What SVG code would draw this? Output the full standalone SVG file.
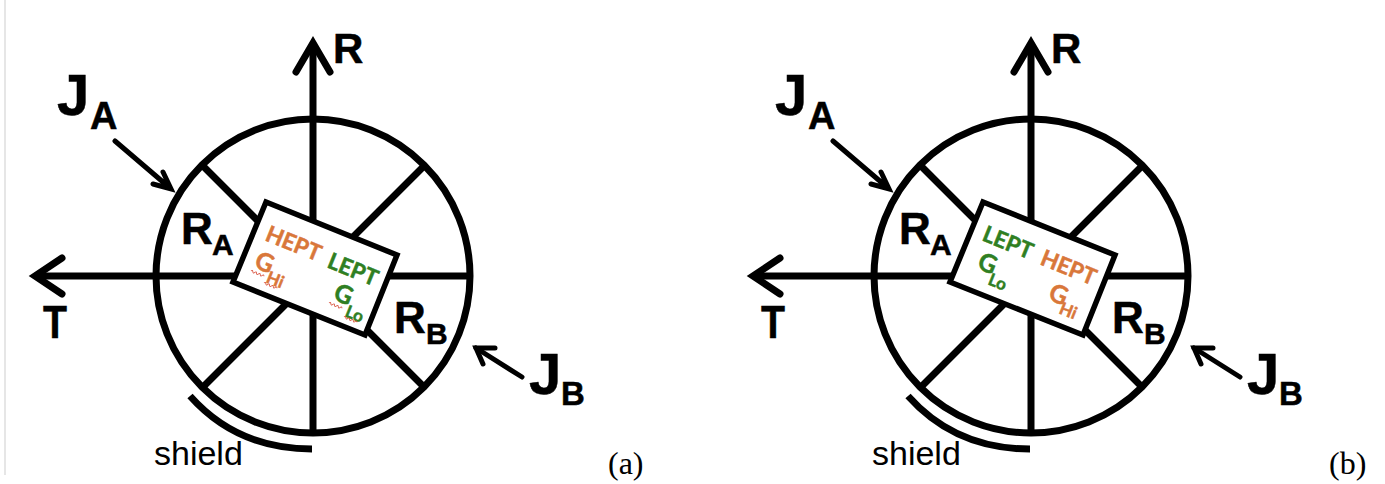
<svg xmlns="http://www.w3.org/2000/svg" xmlns:xlink="http://www.w3.org/1999/xlink" width="1385" height="484" viewBox="0 0 1385 484">
<style>
.ln{fill:none;stroke:#000;stroke-width:7;stroke-linecap:butt;stroke-linejoin:round}
.hd{fill:none;stroke:#000;stroke-width:7;stroke-linecap:round;stroke-linejoin:miter}
.th{fill:none;stroke:#000;stroke-width:5;stroke-linecap:round}
.b{font-family:"Liberation Sans",Arial,sans-serif;font-weight:700;fill:#000;stroke:#000;stroke-width:.5}
.j{font-size:58px}.js{font-size:38px}.jb{font-size:33px}.r{font-size:44px}.rs{font-size:30px}.ax{font-size:42px}.tt{font-size:46px}
.sh{font-family:"Liberation Sans",Arial,sans-serif;font-size:34px;fill:#000}
.cap{font-family:"Liberation Serif","Times New Roman",serif;font-size:32px;fill:#000}
.box{fill:#fff;stroke:#000;stroke-width:5.5;stroke-linejoin:miter}
.o{fill:#d9773a;stroke:#d9773a;stroke-width:.5}.g{fill:#2f7f22;stroke:#2f7f22;stroke-width:.5}
.t{font-family:Lato,"Open Sans",sans-serif;font-weight:700;font-size:22.5px}
.gg{font-family:Lato,"Open Sans",sans-serif;font-weight:700;font-size:25px}
.s{font-family:Lato,"Open Sans",sans-serif;font-weight:700;font-size:17px}
.w{fill:none;stroke:#d8503c;stroke-width:.9}
</style>
<defs>
<path id="sq" class="w" d="M0 0q1 -2 2 0t2 0t2 0t2 0t2 0t2 0t2 0"/>
<g id="wheel">
<circle cx="313" cy="276" r="157" class="ln"/>
<path class="ln" d="M313 48V436M38 276H470M202 165L425 388M425 165L203 387"/>
<path class="hd" d="M296 72L313 43L330 72M62 258L35 276L62 294"/>
<path class="th" d="M115 141L170 188M153 184L171 189L163 172M522 377L476 348"/>
<path class="th" d="M495 348L476 348L483 364"/>
<path class="ln" d="M190 396C222 432 262 449 312 449"/>
</g>
</defs>
<path d="M5 0V475" stroke="#e6e6e6" stroke-width="2" fill="none"/>

<g id="connectors">
<use href="#wheel" xlink:href="#wheel"/>
<use href="#wheel" xlink:href="#wheel" transform="translate(718,0)"/>
</g>

<g id="panel-a">
<g id="label-JA-a"><text class="b j" x="57" y="115">J</text><text class="b js" x="90" y="129">A</text></g>
<g id="label-R-a"><text class="b ax" x="333" y="63">R</text></g>
<g id="label-T-a"><text class="b tt" x="43" y="338" textLength="24" lengthAdjust="spacingAndGlyphs">T</text></g>
<g id="label-RA-a"><text class="b r" x="181" y="244">R</text><text class="b rs" x="212" y="255">A</text></g>
<g id="label-RB-a"><text class="b r" x="394" y="333">R</text><text class="b rs" x="426" y="344">B</text></g>
<g id="label-JB-a"><text class="b j" x="529" y="394">J</text><text class="b jb" x="561" y="405">B</text></g>
<g id="label-shield-a"><text class="sh" x="154" y="465">shield</text></g>
<g id="caption-a"><text class="cap" x="608" y="474">(a)</text></g>
<g id="instrument-a">
<polygon class="box" points="266,202 397,255 365,335 233,282"/>
<text class="t o" transform="translate(264,240) rotate(22)">HEPT</text>
<text class="t g" transform="translate(326,267) rotate(22)">LEPT</text>
<text class="gg o" transform="translate(253,267) rotate(22)">G</text>
<text class="s o" transform="translate(265,282) rotate(22)">Hi</text>
<text class="gg g" transform="translate(332,299) rotate(22)">G</text>
<text class="s g" transform="translate(344,316) rotate(22)">Lo</text>
<use href="#sq" xlink:href="#sq" transform="translate(251,271) rotate(22)"/>
<use href="#sq" xlink:href="#sq" transform="translate(264,283) rotate(22)"/>
<use href="#sq" xlink:href="#sq" transform="translate(329,303) rotate(22)"/>
<use href="#sq" xlink:href="#sq" transform="translate(344,317) rotate(22)"/>
</g>
</g>

<g id="panel-b">
<g id="label-JA-b"><text class="b j" x="775" y="115">J</text><text class="b js" x="808" y="129">A</text></g>
<g id="label-R-b"><text class="b ax" x="1051" y="63">R</text></g>
<g id="label-T-b"><text class="b tt" x="761" y="338" textLength="24" lengthAdjust="spacingAndGlyphs">T</text></g>
<g id="label-RA-b"><text class="b r" x="899" y="244">R</text><text class="b rs" x="930" y="255">A</text></g>
<g id="label-RB-b"><text class="b r" x="1112" y="333">R</text><text class="b rs" x="1144" y="344">B</text></g>
<g id="label-JB-b"><text class="b j" x="1247" y="394">J</text><text class="b jb" x="1279" y="405">B</text></g>
<g id="label-shield-b"><text class="sh" x="872" y="465">shield</text></g>
<g id="caption-b"><text class="cap" x="1329" y="474">(b)</text></g>
<g id="instrument-b">
<polygon class="box" points="983,202 1115,255 1083,335 950,282"/>
<text class="t g" transform="translate(981,240) rotate(22)">LEPT</text>
<text class="t o" transform="translate(1039,264) rotate(22)">HEPT</text>
<text class="gg g" transform="translate(976,268) rotate(22)">G</text>
<text class="s g" transform="translate(987,284) rotate(22)">Lo</text>
<text class="gg o" transform="translate(1047,299) rotate(22)">G</text>
<text class="s o" transform="translate(1058,313) rotate(22)">Hi</text>
</g>
</g>
</svg>
